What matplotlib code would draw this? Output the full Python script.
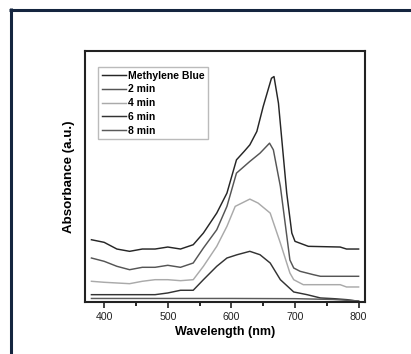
"""
UV-vis absorbance of methylene blue over irradiation time.
"""

import matplotlib

matplotlib.use("Agg")
import matplotlib.pyplot as plt  # noqa: E402
from matplotlib.lines import Line2D  # noqa: E402

plt.rcParams["font.family"] = ["Liberation Sans", "DejaVu Sans"]

# wavelength (nm) and absorbance (a.u.)
wl_mb = [380, 400, 420, 440, 460, 480, 500, 520, 540, 556, 577, 593, 608, 620,
         629, 640, 650, 663, 667, 674, 687, 695, 700, 721, 771, 781, 800]
abs_mb = [0.623, 0.597, 0.530, 0.507, 0.530, 0.530, 0.550, 0.530, 0.573, 0.690,
          0.890, 1.090, 1.423, 1.507, 1.573, 1.707, 1.957, 2.240, 2.257, 1.990,
          1.090, 0.690, 0.607, 0.557, 0.550, 0.530, 0.530]

wl_2 = [380, 400, 420, 440, 460, 480, 500, 520, 540, 556, 577, 593, 608, 629,
        645, 660, 666, 677, 692, 698, 708, 729, 740, 800]
abs_2 = [0.440, 0.407, 0.357, 0.323, 0.347, 0.347, 0.367, 0.347, 0.390, 0.540,
         0.723, 0.957, 1.290, 1.407, 1.490, 1.590, 1.523, 1.157, 0.420, 0.340,
         0.307, 0.273, 0.257, 0.257]

wl_4 = [380, 400, 440, 460, 480, 500, 520, 540, 556, 577, 593, 606, 629, 642,
        661, 677, 692, 698, 713, 771, 781, 800]
abs_4 = [0.207, 0.197, 0.183, 0.207, 0.223, 0.223, 0.213, 0.223, 0.357, 0.557,
         0.757, 0.957, 1.030, 0.990, 0.890, 0.590, 0.290, 0.223, 0.173, 0.173,
         0.150, 0.150]

wl_6 = [380, 400, 480, 500, 520, 540, 556, 577, 593, 609, 629, 645, 661, 677,
        698, 719, 740, 761, 782, 800]
abs_6 = [0.073, 0.073, 0.073, 0.090, 0.117, 0.117, 0.223, 0.357, 0.440, 0.473,
         0.507, 0.473, 0.390, 0.223, 0.100, 0.073, 0.040, 0.033, 0.023, 0.007]

wl_8 = [380, 500, 600, 700, 760, 800]
abs_8 = [0.035, 0.035, 0.035, 0.033, 0.025, 0.010]

series = [
    ("Methylene Blue", wl_mb, abs_mb, "#262626"),
    ("2 min", wl_2, abs_2, "#555555"),
    ("4 min", wl_4, abs_4, "#aaaaaa"),
    ("6 min", wl_6, abs_6, "#333333"),
    ("8 min", wl_8, abs_8, "#5a5a5a"),
]

fig = plt.figure(figsize=(4.11, 3.54), dpi=100)
ax = fig.add_axes([0.207, 0.147, 0.681, 0.709])

for label, x, y, color in series:
    ax.plot(x, y, color=color, linewidth=1.05, label=label)

ax.set_xlim(370, 810)
ax.set_ylim(0, 2.513)
ax.set_xticks([400, 500, 600, 700, 800])
ax.set_xticks([450, 550, 650, 750], minor=True)
ax.set_yticks([])
ax.tick_params(axis="x", which="major", direction="out", length=4.3, width=1.2,
               labelsize=7.6, pad=3, colors="#222222")
ax.tick_params(axis="x", which="minor", direction="out", length=2.8, width=1.2)
for spine in ax.spines.values():
    spine.set_linewidth(1.5)
    spine.set_color("#222222")

ax.set_xlabel("Wavelength (nm)", fontsize=9, fontweight="bold", labelpad=3)
ax.set_ylabel("Absorbance (a.u.)", fontsize=9.6, fontweight="bold", labelpad=7)

leg = ax.legend(loc="upper left", bbox_to_anchor=(0.046, 0.936), fontsize=7.5,
                frameon=True, fancybox=False, edgecolor="#aaaaaa",
                handlelength=2.3, handletextpad=0.2, labelspacing=0.36,
                borderpad=0.35, borderaxespad=0)
leg.get_frame().set_linewidth(1.0)
for text in leg.get_texts():
    text.set_fontweight("bold")

# navy frame at the top and left of the panel
frame = "#14253f"
fig.add_artist(Line2D([10.5 / 411, 10.5 / 411], [0, 1 - 8 / 354],
                      transform=fig.transFigure, color=frame, linewidth=2.2,
                      solid_capstyle="butt"))
fig.add_artist(Line2D([9 / 411, 1], [1 - 9.5 / 354, 1 - 9.5 / 354],
                      transform=fig.transFigure, color=frame, linewidth=2.2,
                      solid_capstyle="butt"))

fig.savefig("out.png", dpi=100)
plt.close(fig)
